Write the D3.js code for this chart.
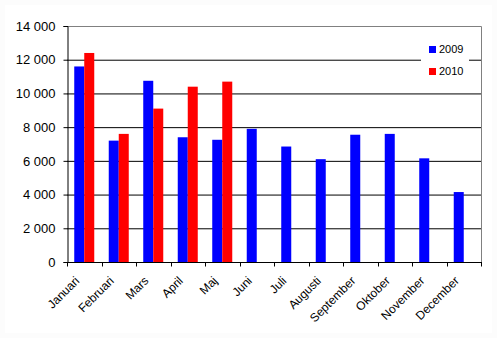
<!DOCTYPE html>
<html>
<head>
<meta charset="utf-8">
<script src="https://cdn.jsdelivr.net/npm/d3@7"></script>
<style>
  body { margin: 0; background: #fcfcfc; }
  text { font-family: "Liberation Sans", Arial, sans-serif; fill: #000; }
</style>
</head>
<body>
<div id="vis"></div>
<script>
const MONTHS = ["Januari", "Februari", "Mars", "April", "Maj", "Juni", "Juli",
  "Augusti", "September", "Oktober", "November", "December"];
const SERIES = ["2009", "2010"];
const VALUES_2009 = [11600, 7200, 10750, 7400, 7250, 7900, 6850, 6100, 7550, 7600, 6150, 4150];
const VALUES_2010 = [12400, 7600, 9100, 10400, 10700];
const Y_TICKS = [0, 2000, 4000, 6000, 8000, 10000, 12000, 14000];
const COLORS = ["#0000ff", "#ff0000"];

const WIDTH = 497;
const HEIGHT = 338;
const M = { left: 67, top: 26, right: 16, bottom: 76 };

const svg = d3.select("#vis").append("svg")
  .attr("width", WIDTH).attr("height", HEIGHT);

// fond blanc avec une fine bordure claire
svg.append("rect").attr("x", 5).attr("y", 5)
  .attr("width", WIDTH - 10).attr("height", HEIGHT - 10).attr("fill", "#fff");

const x = d3.scaleBand().domain(MONTHS)
  .range([M.left, WIDTH - M.right]).paddingInner(0.42).paddingOuter(0.21);
const xs = d3.scaleBand().domain(SERIES).range([0, x.bandwidth()]);
const y = d3.scaleLinear().domain([0, 14000]).range([HEIGHT - M.bottom, M.top]);

const fmt = v => d3.format(",")(v).replace(",", " ");

// grille
svg.append("g").selectAll("line").data(Y_TICKS.slice(1, -1)).join("line")
  .attr("x1", M.left).attr("x2", WIDTH - M.right)
  .attr("y1", d => y(d) + 0.5).attr("y2", d => y(d) + 0.5)
  .attr("stroke", "#000");

// cadre gris (haut et droite)
svg.append("path")
  .attr("d", `M${M.left},${M.top + 0.5}H${WIDTH - M.right + 0.5}V${HEIGHT - M.bottom}`)
  .attr("fill", "none").attr("stroke", "#808080");

// barres
const rows = MONTHS.map((m, i) => ({ m, vals: [VALUES_2009[i], VALUES_2010[i]] }));
svg.append("g").selectAll("g").data(rows).join("g")
  .attr("transform", d => `translate(${x(d.m)},0)`)
  .selectAll("rect")
  .data(d => d.vals.map((v, j) => ({ s: SERIES[j], v, c: COLORS[j] })).filter(d => d.v != null))
  .join("rect")
  .attr("x", d => xs(d.s)).attr("width", xs.bandwidth())
  .attr("y", d => y(d.v)).attr("height", d => y(0) - y(d.v))
  .attr("fill", d => d.c);

// axe y
const yAxis = svg.append("g").attr("transform", `translate(${M.left + 0.5},0)`)
  .call(d3.axisLeft(y).tickValues(Y_TICKS).tickFormat(fmt).tickSize(4).tickPadding(8));
yAxis.select(".domain").attr("stroke", "#000");
yAxis.selectAll(".tick line").attr("stroke", "#000");
yAxis.selectAll("text").attr("font-size", 13);

// axe x : graduations entre les catégories
const step = x.step();
const xAxisG = svg.append("g").attr("transform", `translate(0,${y(0) + 0.5})`);
xAxisG.append("line").attr("x1", M.left).attr("x2", WIDTH - M.right + 1).attr("stroke", "#000");
xAxisG.selectAll(".tk").data(d3.range(MONTHS.length + 1)).join("line")
  .attr("x1", i => Math.round(M.left + i * step) + 0.5)
  .attr("x2", i => Math.round(M.left + i * step) + 0.5)
  .attr("y1", 0).attr("y2", 4).attr("stroke", "#000");
xAxisG.selectAll("text").data(MONTHS).join("text")
  .attr("transform", d => `translate(${x(d) + x.bandwidth() / 2 - 4},${19}) rotate(-45)`)
  .attr("text-anchor", "end").attr("font-size", 12)
  .text(d => d);

// légende
const lg = svg.append("g").attr("transform", "translate(421,38)");
lg.append("rect").attr("width", 48).attr("height", 44).attr("fill", "#fff");
SERIES.forEach((s, i) => {
  lg.append("rect").attr("x", 8).attr("y", 8 + i * 22).attr("width", 7).attr("height", 7)
    .attr("fill", COLORS[i]);
  lg.append("text").attr("x", 18).attr("y", 15 + i * 22).attr("font-size", 11).text(s);
});
</script>
</body>
</html>
